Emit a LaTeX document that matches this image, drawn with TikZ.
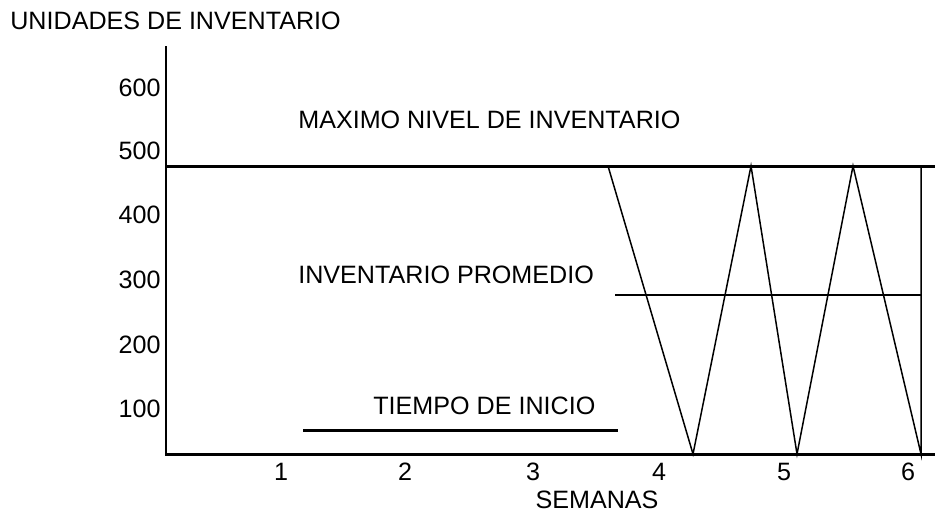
\documentclass[tikz,border=0pt]{standalone}
\usepackage{fontspec}
\setmainfont{Liberation Sans}
\usetikzlibrary{positioning}

\begin{document}
\begin{tikzpicture}[x=0.02cm, y=-0.02cm,
  lbl/.style={font=\fontsize{14.3}{17}\selectfont, inner sep=0pt},
  axis/.style={line width=1.7pt},
  saw/.style={line width=0.85pt}]
  \useasboundingbox (0,0) rectangle (935,515);

  %% axes
  \coordinate (o) at (166,454);
  \coordinate (ytop) at (166,46);
  \coordinate (xend) at (935,454);
  \draw[axis] (ytop) -- (o) -- (xend);

  %% maximum level
  \coordinate (m0) at (166,166);
  \coordinate (m1) at (935,166);
  \draw[axis] (m0) -- (m1);

  %% start time
  \coordinate (t0) at (303,430);
  \coordinate (t1) at (618,430);
  \draw[axis] (t0) -- (t1);

  %% saw tooth
  \coordinate (s0) at (608,166);
  \coordinate (s1) at (693,454);
  \coordinate (s2) at (751,166);
  \coordinate (s3) at (797,454);
  \coordinate (s4) at (853,166);
  \coordinate (s5) at (921,454);
  \coordinate (s6) at (921,166);
  \draw[saw] (s0) -- (s1) -- (s2) -- (s3) -- (s4) -- (s5) -- (s6);

  %% average
  \coordinate (a0) at (615,295);
  \coordinate (a1) at (921,295);
  \draw[saw] (a0) -- (a1);

  %% labels
  \node[lbl, anchor=west] (ylabel) at (10,21) {UNIDADES DE INVENTARIO};
  \foreach \val/\y in {600/88,500/151,400/215,300/280,200/345,100/409}
    \node[lbl, anchor=east] (ytick\val) at (161,\y) {\val};
  \foreach \wk/\x in {1/281,2/405,3/533,4/659,5/784,6/908}
    \node[lbl] (xtick\wk) at (\x,472) {\wk};
  \node[lbl] (xlabel) at (597,500) {SEMANAS};

  \node[lbl, anchor=west] (maxlabel) at (298,120) {MAXIMO NIVEL DE INVENTARIO};
  \node[lbl, anchor=west] (avglabel) at (298,275) {INVENTARIO PROMEDIO};
  \node[lbl, anchor=west] (startlabel) at (373,406) {TIEMPO DE INICIO};
\end{tikzpicture}
\end{document}
